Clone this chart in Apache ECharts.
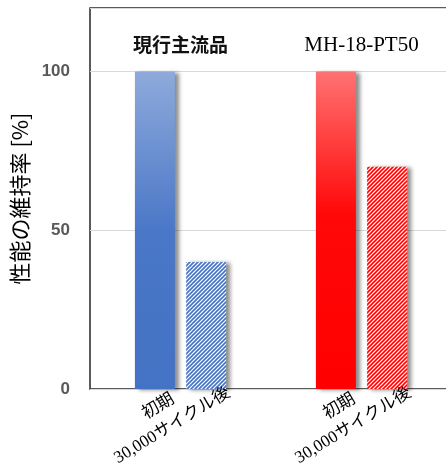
<!DOCTYPE html>
<html>
<head>
<meta charset="utf-8">
<script src="https://cdn.jsdelivr.net/npm/echarts@6/dist/echarts.min.js"></script>
<style>html,body{margin:0;padding:0;background:#fff}#c{width:446px;height:472px}</style>
</head>
<body>
<div id="c"></div>
<script>
const categories = ['現行主流品', 'MH-18-PT50'];
const seriesNames = ['初期', '30,000サイクル後'];
const initialValues = [100, 100];
const afterValues = [40, 70];
const yTicks = [0, 50, 100];

function hatch(color) {
  const s = 4;
  const c = document.createElement('canvas');
  c.width = s; c.height = s;
  const g = c.getContext('2d');
  g.fillStyle = '#ffffff';
  g.fillRect(0, 0, s, s);
  g.strokeStyle = color;
  g.lineWidth = 1.6;
  g.beginPath();
  g.moveTo(-1, s + 1); g.lineTo(s + 1, -1);
  g.moveTo(-1, 1); g.lineTo(1, -1);
  g.moveTo(s - 1, s + 1); g.lineTo(s + 1, s - 1);
  g.stroke();
  return c;
}
const solidColors = [
  {type:'linear',x:0,y:0,x2:0,y2:1,colorStops:[{offset:0,color:'#8eaadb'},{offset:0.5,color:'#4a77c7'},{offset:1,color:'#4472c4'}]},
  {type:'linear',x:0,y:0,x2:0,y2:1,colorStops:[{offset:0,color:'#ff7272'},{offset:0.45,color:'#ff0808'},{offset:1,color:'#ff0000'}]}
];
const hatchColors = [
  {image: hatch('#4472c4'), repeat:'repeat'},
  {image: hatch('#ff0000'), repeat:'repeat'}
];
const shadow = {shadowColor:'rgba(0,0,0,0.45)', shadowBlur:4, shadowOffsetX:4, shadowOffsetY:1};
const labelFont = '"Liberation Serif", "Noto Sans CJK JP", serif';

const chart = echarts.init(document.getElementById('c'));
chart.setOption({
  animation: false,
  grid: {left: 90, top: 8, right: -6, bottom: 83, outerBoundsMode: 'none', containLabel: false,
    show: true, borderColor: '#262626', borderWidth: 1.5, backgroundColor: 'transparent'},
  xAxis: {
    type: 'category', data: categories, position: 'top',
    axisLine: {show: false}, axisTick: {show: false},
    axisLabel: {inside: true, margin: 27, color: '#000', fontFamily: labelFont,
      formatter: v => /^[A-Za-z0-9-]+$/.test(v) ? '{lat|' + v + '}' : '{cjk|' + v + '}',
      rich: {cjk: {fontSize: 19, fontWeight: 'bold', fontFamily: '"Noto Sans CJK JP"', color: '#111'},
             lat: {fontSize: 21, fontFamily: labelFont, color: '#000'}}}
  },
  yAxis: {
    type: 'value', min: 0, max: 120, interval: 50,
    name: '性能の維持率 [%]', nameLocation: 'middle', nameGap: 53, nameRotate: 90,
    nameTextStyle: {color: '#000', fontSize: 22, fontFamily: '"Noto Sans CJK JP"'},
    axisLine: {show: false}, axisTick: {show: false},
    splitLine: {lineStyle: {color: '#d9d9d9', width: 1}},
    axisLabel: {margin: 20, color: '#595959', fontSize: 17, fontWeight: 'bold', fontFamily: '"Liberation Sans", Arial',
      formatter: v => yTicks.includes(v) ? String(v) : ''}
  },
  series: [
    {
      name: seriesNames[0], type: 'bar', barWidth: 40, barGap: '28%',
      data: initialValues.map((v, i) => ({value: v, itemStyle: Object.assign({color: solidColors[i]}, shadow)})),
      label: {show: true, position: 'bottom', distance: 0, rotate: 31, align: 'right', verticalAlign: 'middle',
        offset: [11, 17], formatter: '{a}', color: '#000', fontSize: 17, fontFamily: labelFont}
    },
    {
      name: seriesNames[1], type: 'bar', barWidth: 40,
      data: afterValues.map((v, i) => ({value: v, itemStyle: Object.assign({color: hatchColors[i]}, shadow)})),
      label: {show: true, position: 'bottom', distance: 0, rotate: 31, align: 'right', verticalAlign: 'middle',
        offset: [18, 14], formatter: '{a}', color: '#000', fontSize: 17, fontFamily: labelFont}
    }
  ]
});
</script>
</body>
</html>
